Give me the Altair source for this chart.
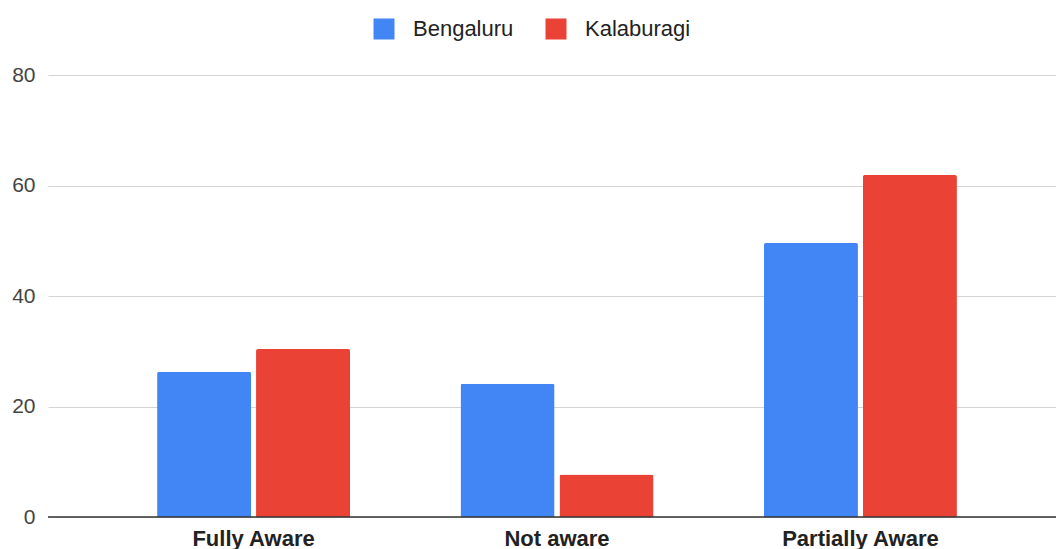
import altair as alt
import pandas as pd

categories = ["Fully Aware", "Not aware", "Partially Aware"]
series = ["Bengaluru", "Kalaburagi"]
bengaluru = [26.3, 24.1, 49.6]
kalaburagi = [30.4, 7.7, 61.9]
colors = ["#4285F4", "#EA4335"]
y_ticks = [0, 20, 40, 60, 80]

rows = []
for c, b, k in zip(categories, bengaluru, kalaburagi):
    rows.append({"category": c, "city": "Bengaluru", "value": b})
    rows.append({"category": c, "city": "Kalaburagi", "value": k})
df = pd.DataFrame(rows)

FONT = "Liberation Sans"

bars = alt.Chart(df).mark_bar(cornerRadiusTopLeft=2, cornerRadiusTopRight=2).encode(
    x=alt.X(
        "category:N", sort=categories,
        scale=alt.Scale(paddingInner=0.364, paddingOuter=0.343, align=0.524),
        axis=alt.Axis(title=None, labelAngle=0, labelFontSize=22, labelFontWeight="bold",
                      labelColor="#222222", ticks=False, domain=False, labelPadding=11,
                      grid=False, labelFont=FONT),
    ),
    xOffset=alt.XOffset("city:N", sort=series, scale=alt.Scale(paddingInner=0.05)),
    y=alt.Y(
        "value:Q", scale=alt.Scale(domain=[0, 80]),
        axis=alt.Axis(values=y_ticks, title=None, ticks=False, domain=False,
                      labelFontSize=21, labelColor="#444444", labelPadding=13,
                      gridColor="#d4d4d4", labelFont=FONT),
    ),
    color=alt.Color(
        "city:N", sort=series, scale=alt.Scale(domain=series, range=colors),
        legend=alt.Legend(title=None, orient="none", legendX=325, legendY=-57,
                          direction="horizontal", symbolType="square", symbolSize=441,
                          labelFontSize=22, labelColor="#222222", symbolStrokeWidth=0,
                          labelOffset=18, columnPadding=31, labelFont=FONT),
    ),
)

baseline = alt.Chart(pd.DataFrame({"y": [0]})).mark_rule(color="#333333", strokeWidth=1.5).encode(
    y="y:Q"
)

chart = alt.layer(bars, baseline).properties(
    width=1008, height=442,
    autosize=alt.AutoSizeParams(type="none"),
    padding={"left": 48, "top": 75, "right": 0, "bottom": 32},
).configure(font=FONT).configure_view(stroke=None)

chart.save("out.html", embed_options={"renderer": "svg", "actions": False})
